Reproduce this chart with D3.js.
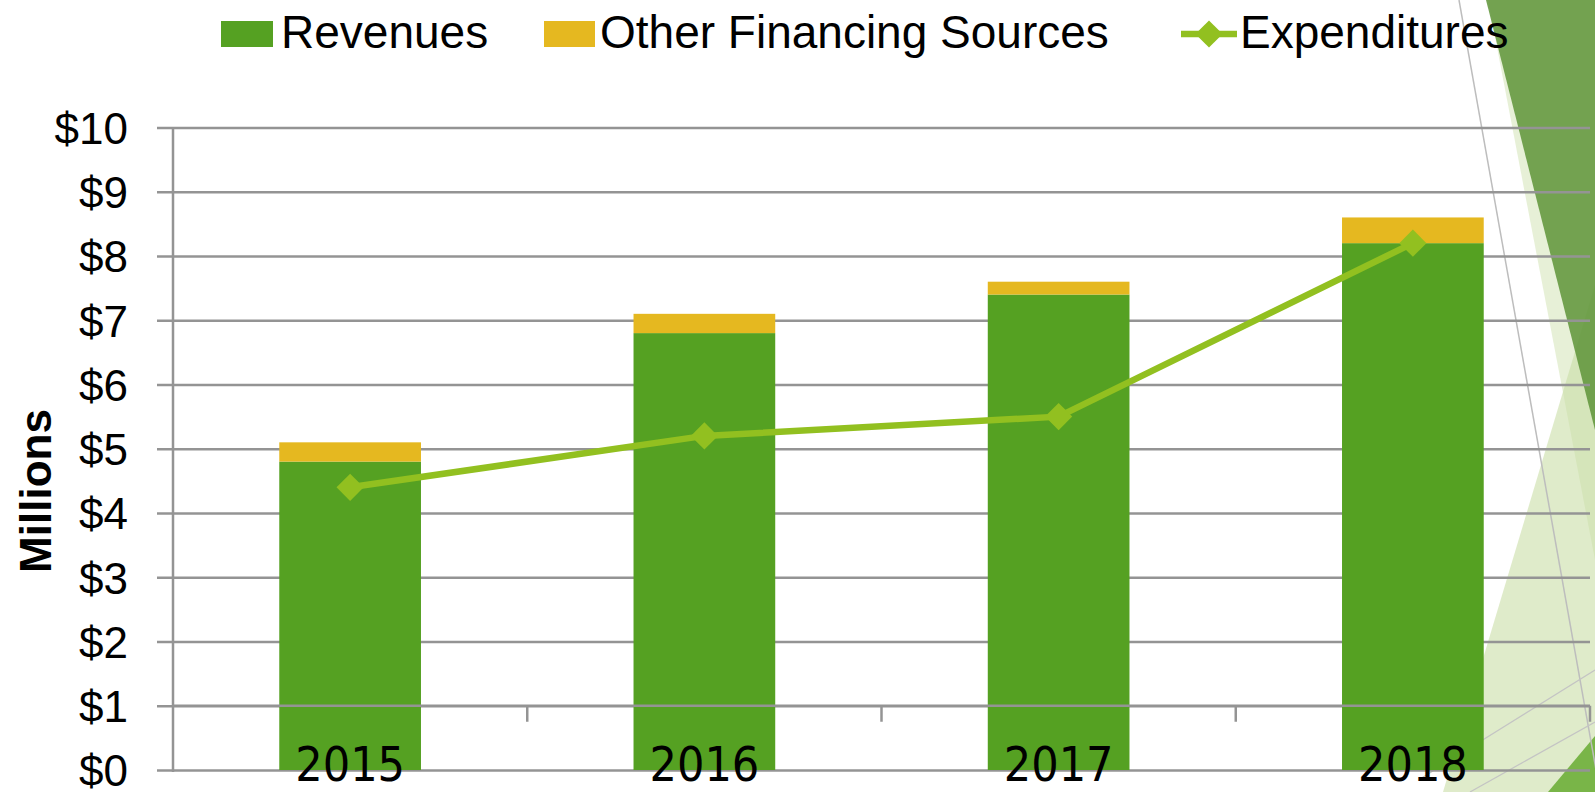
<!DOCTYPE html>
<html>
<head>
<meta charset="utf-8">
<script src="https://cdn.jsdelivr.net/npm/d3@7"></script>
<style>
  html, body { margin: 0; padding: 0; background: #fff; overflow: hidden; }
  svg { display: block; }
</style>
</head>
<body>
<svg id="chart_svg"></svg>
<script>
// chart data
const years = ["2015", "2016", "2017", "2018"];
const revenues = [4.8, 6.8, 7.4, 8.2];
const otherFinancing = [0.3, 0.3, 0.2, 0.4];
const expenditures = [4.4, 5.2, 5.5, 8.2];
const yTicks = [0, 1, 2, 3, 4, 5, 6, 7, 8, 9, 10];

const width = 1595;
const height = 792;

const svg = d3.select("#chart_svg")
  .attr("width", width)
  .attr("height", height);

// background slide decoration (right edge)
const deco = svg.append("g").attr("class", "deco");
deco.append("polygon").attr("points", "1488,0 1595,0 1595,560").attr("fill", "#c9dda6").attr("opacity", 0.45);
deco.append("polygon").attr("points", "1595,285 1443,792 1595,792").attr("fill", "#c9dda6").attr("opacity", 0.6);
deco.append("polygon").attr("points", "1486,0 1595,0 1595,430").attr("fill", "#5e9438").attr("opacity", 0.85);
deco.append("polygon").attr("points", "1548,792 1595,736 1595,792").attr("fill", "#79b548");
deco.append("line").attr("x1", 1459).attr("y1", 0).attr("x2", 1600).attr("y2", 792)
  .attr("stroke", "#bdbdbd").attr("stroke-width", 1.5);
deco.append("line").attr("x1", 1420).attr("y1", 779).attr("x2", 1595).attr("y2", 670)
  .attr("stroke", "#c4c4c4").attr("stroke-width", 1.2);
deco.append("line").attr("x1", 1470).attr("y1", 792).attr("x2", 1595).attr("y2", 722)
  .attr("stroke", "#c4c4c4").attr("stroke-width", 1.2);

// scales
const x = d3.scaleBand()
  .domain(years)
  .range([173, 1590])
  .paddingInner(0.6)
  .paddingOuter(0.3);

const y = d3.scaleLinear()
  .domain([0, 10])
  .range([770, 127.5]);

const gridColor = "#949494";

// gridlines + y axis labels
const yAxis = svg.append("g")
  .attr("transform", "translate(173,0)")
  .call(d3.axisLeft(y)
    .tickValues(yTicks)
    .tickSize(-(1590 - 173))
    .tickPadding(45)
    .tickFormat(d => "$" + d));
yAxis.select(".domain").remove();
yAxis.selectAll(".tick line")
  .attr("stroke", gridColor)
  .attr("stroke-width", 2.5)
  .attr("x1", -16);
yAxis.selectAll(".tick text")
  .attr("font-family", "'Liberation Sans', Arial, sans-serif")
  .attr("font-size", 44)
  .attr("fill", "#000")
  .attr("dy", "0.36em");

// vertical axis line
svg.append("line")
  .attr("x1", 173).attr("x2", 173)
  .attr("y1", y(10)).attr("y2", y(0) + 2)
  .attr("stroke", gridColor)
  .attr("stroke-width", 2.5);

// stacked bars
const bars = svg.append("g").attr("class", "bars");
bars.selectAll("rect.rev")
  .data(years)
  .enter().append("rect")
  .attr("class", "rev")
  .attr("x", d => x(d))
  .attr("width", x.bandwidth())
  .attr("y", (d, i) => y(revenues[i]))
  .attr("height", (d, i) => y(0) - y(revenues[i]))
  .attr("fill", "#55a122");
bars.selectAll("rect.other")
  .data(years)
  .enter().append("rect")
  .attr("class", "other")
  .attr("x", d => x(d))
  .attr("width", x.bandwidth())
  .attr("y", (d, i) => y(revenues[i] + otherFinancing[i]))
  .attr("height", (d, i) => y(revenues[i]) - y(revenues[i] + otherFinancing[i]))
  .attr("fill", "#e5b820");

// category axis crosses at $1
const xAxis = svg.append("g")
  .attr("transform", `translate(0,${y(1)})`);
xAxis.append("line")
  .attr("x1", 173).attr("x2", 1590)
  .attr("stroke", gridColor)
  .attr("stroke-width", 2.5);
const bounds = years.slice(1).map(d => x(d) - x.step() * x.paddingInner() / 2).concat([1590]);
xAxis.selectAll("line.tick")
  .data(bounds)
  .enter().append("line")
  .attr("class", "tick")
  .attr("x1", d => d).attr("x2", d => d)
  .attr("y1", 0).attr("y2", 16)
  .attr("stroke", gridColor)
  .attr("stroke-width", 2.5);

// category labels at the bottom
svg.append("g")
  .selectAll("text")
  .data(years)
  .enter().append("text")
  .attr("x", d => x(d) + x.bandwidth() / 2)
  .attr("y", 781)
  .attr("text-anchor", "middle")
  .attr("font-family", "'Liberation Sans Narrow', 'DejaVu Sans Condensed', sans-serif")
  .attr("font-size", 48)
  .attr("fill", "#000")
  .text(d => d);

// expenditures line
const lineColor = "#92c020";
const line = d3.line()
  .x((d, i) => x(years[i]) + x.bandwidth() / 2)
  .y(d => y(d));
svg.append("path")
  .datum(expenditures)
  .attr("d", line)
  .attr("fill", "none")
  .attr("stroke", lineColor)
  .attr("stroke-width", 6.5);
svg.append("g")
  .selectAll("path")
  .data(expenditures)
  .enter().append("path")
  .attr("d", d3.symbol(d3.symbolSquare, 370))
  .attr("transform", (d, i) => `translate(${x(years[i]) + x.bandwidth() / 2},${y(d)}) rotate(45)`)
  .attr("fill", lineColor);

// y axis title
svg.append("text")
  .attr("transform", "translate(51,491) rotate(-90)")
  .attr("text-anchor", "middle")
  .attr("font-family", "'Liberation Sans', Arial, sans-serif")
  .attr("font-weight", "bold")
  .attr("font-size", 44)
  .attr("fill", "#000")
  .text("Millions");

// legend
const legend = svg.append("g")
  .attr("font-family", "'Liberation Sans', Arial, sans-serif")
  .attr("font-size", 46)
  .attr("fill", "#000");
legend.append("rect").attr("x", 221).attr("y", 21).attr("width", 52).attr("height", 26).attr("fill", "#55a122");
legend.append("text").attr("x", 281).attr("y", 48).text("Revenues");
legend.append("rect").attr("x", 544).attr("y", 21).attr("width", 51).attr("height", 26).attr("fill", "#e5b820");
legend.append("text").attr("x", 600).attr("y", 48).text("Other Financing Sources");
legend.append("line").attr("x1", 1181).attr("x2", 1237).attr("y1", 34).attr("y2", 34)
  .attr("stroke", lineColor).attr("stroke-width", 6.5);
legend.append("path")
  .attr("d", d3.symbol(d3.symbolSquare, 370))
  .attr("transform", "translate(1209,34) rotate(45)")
  .attr("fill", lineColor);
legend.append("text").attr("x", 1240).attr("y", 48).text("Expenditures");
</script>
</body>
</html>
